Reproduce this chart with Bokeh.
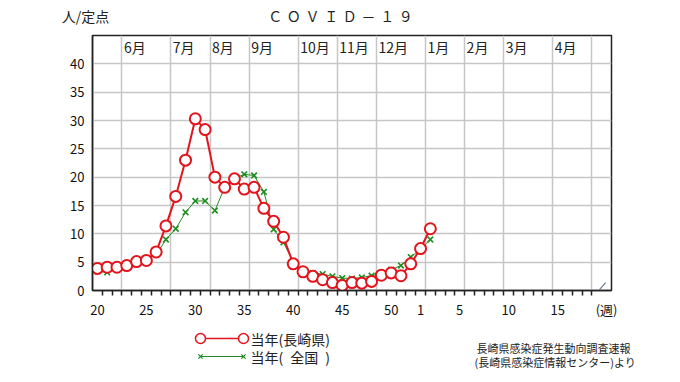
from bokeh.plotting import figure
from bokeh.models import Range1d, FixedTicker, Arrow, LinearAxis
from bokeh.layouts import column, row
from bokeh.core.properties import value
from bokeh.embed import file_html
from bokeh.resources import INLINE

# ---- data (per-sentinel counts, weeks 20..52 of year 1, then weeks 1..2) ----
weeks = list(range(20, 53)) + [1, 2]
nagasaki = [3.9, 4.1, 4.1, 4.4, 5.1, 5.3, 6.8, 11.4, 16.6, 23.0,
            30.3, 28.4, 20.0, 18.2, 19.7, 17.9, 18.2, 14.5, 12.2, 9.4,
            4.7, 3.3, 2.5, 1.9, 1.4, 0.9, 1.4, 1.3, 1.6, 2.7,
            3.1, 2.6, 4.7, 7.4, 10.9]
national = [3.4, 3.2, 3.8, 4.8, 5.3, 5.7, 6.3, 9.0, 10.9, 13.8,
            15.8, 15.8, 14.1, 18.2, 19.8, 20.5, 20.3, 17.4, 10.8, 8.5,
            5.0, 3.6, 3.1, 2.9, 2.5, 2.2, 2.1, 2.3, 2.6, 3.0,
            3.7, 4.4, 5.9, 7.3, 9.0]
tick_weeks = [20, 25, 30, 35, 40, 45, 50, 1, 5, 10, 15]
tick_labels = ["20", "25", "30", "35", "40", "45", "50", "1", "5", "10", "15"]
unit_label = "(週)"
month_labels = ["6月", "7月", "8月", "9月", "10月", "11月", "12月", "1月", "2月", "3月", "4月"]
month_start_weeks = [23, 28, 32, 36, 41, 45, 49, 2, 6, 10, 15, 19]
y_ticks = [0, 5, 10, 15, 20, 25, 30, 35, 40]
title_text = "Ｃ\u2004Ｏ\u2004Ｖ\u2004Ｉ\u2004Ｄ\u2004－\u2004１\u2004９"
y_unit_text = "人/定点"

FONT = "Noto Sans CJK JP"
RED = "#e3141c"
GREEN = "#1e8c1e"
AXC = "#222222"
GRIDC = "#c6c6c6"

W = 680
LEFT, RIGHT, TOP, BOTTOM_AXIS = 92, 611, 35, 290
TITLE_CENTER = 340


def week_pos(w):
    return w - 20 if w >= 20 else w + 32


N_SLOTS = week_pos(19) + 1  # 52 weekly slots
x = [week_pos(w) for w in weeks]
boundaries = [week_pos(w) - 0.5 for w in month_start_weeks]
X0, X1 = -0.5, N_SLOTS + 0.5

P_H = 326
p = figure(width=W, height=P_H, x_range=Range1d(X0, X1),
           y_range=Range1d(0, 45), output_backend="svg", toolbar_location=None,
           min_border_left=LEFT, min_border_right=W - RIGHT, min_border_top=TOP,
           min_border_bottom=P_H - BOTTOM_AXIS)
p.background_fill_color = "white"
p.border_fill_color = "white"
p.outline_line_color = AXC
p.outline_line_width = 1.5

# x axis: labels at week centres, small tick marks at slot edges
tick_pos = [week_pos(w) for w in tick_weeks] + [N_SLOTS]
overrides = {pos: lab for pos, lab in zip(tick_pos, tick_labels + [unit_label])}
p.xaxis.ticker = FixedTicker(ticks=tick_pos,
                             minor_ticks=[i + 0.5 for i in range(N_SLOTS - 1)])
p.xaxis.major_label_overrides = overrides
p.xaxis.major_tick_out = 0
p.xaxis.major_tick_in = 0
p.xaxis.minor_tick_out = 5
p.xaxis.minor_tick_in = 0
p.xaxis.minor_tick_line_color = AXC
p.xaxis.minor_tick_line_width = 1.5
p.xaxis.axis_line_color = AXC
p.xaxis.axis_line_width = 1.5
p.xaxis.major_label_standoff = 4
p.xaxis.major_label_text_font = FONT
p.xaxis.major_label_text_font_size = "13px"
p.xaxis.major_label_text_color = "#111111"

p.yaxis.ticker = FixedTicker(ticks=y_ticks)
p.yaxis.major_tick_out = 0
p.yaxis.major_tick_in = 0
p.yaxis.minor_tick_out = 0
p.yaxis.minor_tick_in = 0
p.yaxis.axis_line_color = AXC
p.yaxis.axis_line_width = 1.5
p.yaxis.major_label_standoff = 8
p.yaxis.major_label_text_font = FONT
p.yaxis.major_label_text_font_size = "13px"
p.yaxis.major_label_text_color = "#111111"

# header texts (unit label at the frame's left edge, title) as labels of a top axis
px_per_unit = (RIGHT - LEFT) / (X1 - X0)
title_pos = X0 + (TITLE_CENTER - LEFT) / px_per_unit
unit_pos = X0 + 0.001
top_axis = LinearAxis(ticker=FixedTicker(ticks=[unit_pos, title_pos]),
                      major_label_overrides={unit_pos: y_unit_text + "\u2003",
                                             title_pos: title_text},
                      axis_line_color=None, major_tick_line_color=None,
                      minor_tick_line_color=None, major_tick_out=0,
                      major_tick_in=0, minor_tick_out=0, minor_tick_in=0,
                      major_label_standoff=10,
                      major_label_text_font=FONT,
                      major_label_text_font_size="14px",
                      major_label_text_color="#222222")
p.add_layout(top_axis, "above")

p.xgrid.ticker = FixedTicker(ticks=boundaries)
p.ygrid.ticker = FixedTicker(ticks=y_ticks)
for g in (p.xgrid, p.ygrid):
    g.grid_line_color = GRIDC
    g.grid_line_width = 1.5

# month labels inside the top band
p.text(x=boundaries[:len(month_labels)], y=[42.9] * len(month_labels),
       text=month_labels, text_font=value(FONT), text_font_size="14px",
       text_baseline="middle", text_align="left", x_offset=2,
       text_color="#222222")

# series
p.line(x, national, line_color=GREEN, line_width=1)
p.scatter(x, national, marker="x", size=8, line_color=GREEN, line_width=1.6)
p.line(x, nagasaki, line_color=RED, line_width=2)
p.scatter(x, nagasaki, marker="circle", size=11, line_color=RED, line_width=2,
          fill_color="white")

# axis break mark
p.add_layout(Arrow(end=None, x_start=51.25, y_start=0.1, x_end=51.9, y_end=1.4,
                   line_color="#6b7896", line_width=1.2))

# ---- legend / source strip (x, y in page pixels from the strip's top-left) ----
Q_H = 54
q = figure(width=W, height=Q_H, x_range=Range1d(0, W), y_range=Range1d(Q_H, 0),
           output_backend="svg", toolbar_location=None, x_axis_type=None,
           y_axis_type=None, min_border=0)
q.outline_line_color = None
q.background_fill_color = "white"
q.border_fill_color = "white"

row1, row2 = 12, 30
q.line([200, 243], [row1, row1], line_color=RED, line_width=1.5)
q.scatter([200, 243], [row1, row1], marker="circle", size=10, line_color=RED,
          line_width=1.5, fill_color="white")
q.line([200, 243], [row2, row2], line_color=GREEN, line_width=1)
q.scatter([200, 243], [row2, row2], marker="x", size=6, line_color=GREEN,
          line_width=1.2)
q.text(x=[250, 250], y=[row1, row2], text=["当年(長崎県)", "当年(\u2002全国\u2002)"],
       text_font=value(FONT), text_font_size="14px", text_baseline="middle",
       text_align="left", text_color="#222222")
q.text(x=[476, 474], y=[21, 35],
       text=["長崎県感染症発生動向調査速報", "(長崎県感染症情報センター)より"],
       text_font=value(FONT), text_font_size="11px", text_baseline="middle",
       text_align="left", text_color="#222222")

layout = column(p, row(q), spacing=0)
open("out.html", "w").write(file_html(layout, INLINE))
